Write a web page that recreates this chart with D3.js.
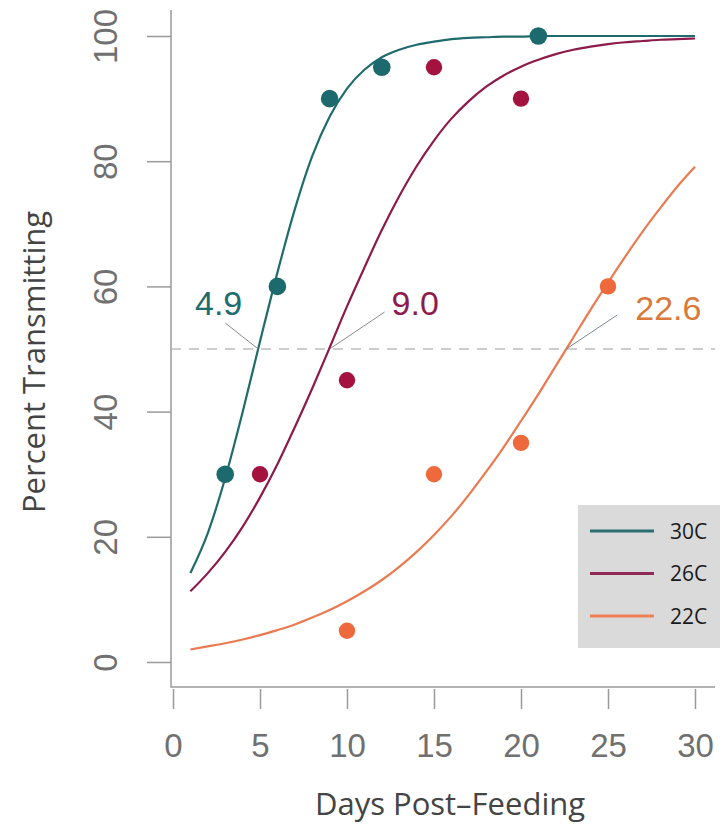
<!DOCTYPE html>
<html>
<head>
<meta charset="utf-8">
<script src="https://cdn.jsdelivr.net/npm/d3@7"></script>
<style>
  html, body { margin: 0; padding: 0; background: #fff; }
  svg { display: block; }
</style>
</head>
<body>
<script>
// ---- data ----
const curveDays = [1,2,3,4,5,6,7,8,9,10,11,12,13,14,15,16,17,18,19,20,21,22,23,24,25,26,27,28,29,30];
const curve30C = [14.2,20.6,29.4,39.9,51.2,62.2,72.3,80.8,87.1,91.6,94.6,96.6,97.8,98.6,99.1,99.5,99.7,99.8,99.9,99.9,100,100,100,100,100,100,100,100,100,100];
const curve26C = [11.3,14.2,17.6,21.6,26.3,31.6,37.5,43.7,50.2,56.8,63,69,74.4,79.2,83.3,86.8,89.6,91.9,93.7,95.1,96.2,97.1,97.8,98.3,98.7,99,99.2,99.4,99.5,99.6];
const curve22C = [2.0,2.5,3.0,3.6,4.3,5.1,6.0,7.1,8.3,9.7,11.3,13.1,15.2,17.6,20.3,23.3,26.7,30.4,34.3,38.5,42.8,47.3,51.8,56.3,60.6,64.8,68.8,72.5,76,79.1];

const obsDays30C = [3,6,9,12,21];
const obsPct30C  = [30,60,90,95,100];
const obsDays26C = [5,10,15,20];
const obsPct26C  = [30,45,95,90];
const obsDays22C = [10,15,20,25];
const obsPct22C  = [5,30,35,60];

const seriesNames = ["30C","26C","22C"];
const ed50Values = [4.9, 9.0, 22.6];
const ed50Labels = ["4.9","9.0","22.6"];
const xTicks = [0,5,10,15,20,25,30];
const yTicks = [0,20,40,60,80,100];
const refLevel = 50;

// ---- styles ----
const lineColors  = ["#1f6b6e","#8c1a4b","#ea7a52"];
const pointColors = ["#1c6a6d","#a4133f","#ee6a3d"];
const labelColors = ["#1f6b6e","#8e1b4b","#d97a3c"];
const legendColors = ["#2b6e72","#8d2a55","#ef8054"];

const W = 725, H = 826;
const svg = d3.select("body").append("svg").attr("width", W).attr("height", H);

const x = d3.scaleLinear().domain([0,30]).range([173,695]);
const y = d3.scaleLinear().domain([0,100]).range([662,36]);

const frameLeft = 171, frameBottom = 687, frameTop = 10, frameRight = 715;
const axisColor = "#9a9a9a";

// frame (L shaped)
svg.append("path")
  .attr("d", `M${frameLeft},${frameTop}V${frameBottom}H${frameRight}`)
  .attr("fill","none").attr("stroke",axisColor).attr("stroke-width",1.5);

// y axis ticks
const yAxis = svg.append("g")
  .attr("transform", `translate(${frameLeft},0)`)
  .call(d3.axisLeft(y).tickValues(yTicks).tickSize(24).tickFormat(d3.format("d")));
yAxis.select(".domain").remove();
yAxis.selectAll(".tick line").attr("stroke",axisColor).attr("stroke-width",1.5);
yAxis.selectAll(".tick text")
  .attr("x", null).attr("dy", null)
  .attr("transform", "translate(-54,0) rotate(-90)")
  .attr("text-anchor","middle")
  .attr("font-family","Liberation Sans, Arial, sans-serif")
  .attr("font-size",33)
  .attr("fill","#707070");

// x axis ticks
const xAxis = svg.append("g")
  .attr("transform", `translate(0,${frameBottom+2})`)
  .call(d3.axisBottom(x).tickValues(xTicks).tickSize(20).tickFormat(d3.format("d")));
xAxis.select(".domain").remove();
xAxis.selectAll(".tick line").attr("stroke",axisColor).attr("stroke-width",1.5);
xAxis.selectAll(".tick text")
  .attr("y", 68).attr("dy", null)
  .attr("font-family","Liberation Sans, Arial, sans-serif")
  .attr("font-size",33)
  .attr("fill","#707070");

// axis titles
svg.append("text")
  .attr("transform", `translate(45,362) rotate(-90)`)
  .attr("text-anchor","middle")
  .attr("font-family","Open Sans, sans-serif")
  .attr("font-size",31)
  .attr("fill","#444")
  .text("Percent Transmitting");
svg.append("text")
  .attr("x", 450).attr("y", 815)
  .attr("text-anchor","middle")
  .attr("font-family","Open Sans, sans-serif")
  .attr("font-size",31)
  .attr("fill","#444")
  .text("Days Post\u2013Feeding");

// dashed 50% reference line
svg.append("line")
  .attr("x1", frameLeft).attr("x2", frameRight)
  .attr("y1", y(refLevel)).attr("y2", y(refLevel))
  .attr("stroke","#bdbdbd").attr("stroke-width",1.5)
  .attr("stroke-dasharray","10,8");

// fitted curves
const curves = [curve30C, curve26C, curve22C];
const line = d3.line().x(d => x(d[0])).y(d => y(d[1])).curve(d3.curveMonotoneX);
curves.forEach((c, i) => {
  svg.append("path")
    .datum(curveDays.map((d, j) => [d, c[j]]))
    .attr("d", line)
    .attr("fill","none")
    .attr("stroke", lineColors[i])
    .attr("stroke-width", 2.2);
});

// observed points
const obs = [[obsDays30C, obsPct30C],[obsDays26C, obsPct26C],[obsDays22C, obsPct22C]];
obs.forEach((o, i) => {
  svg.append("g").selectAll("circle")
    .data(o[0].map((d, j) => [d, o[1][j]]))
    .join("circle")
    .attr("cx", d => x(d[0]))
    .attr("cy", d => y(d[1]))
    .attr("r", i === 0 ? 8.8 : 8.2)
    .attr("fill", pointColors[i]);
});

// ED50 annotations
const leaderOffsets = [[-33,-26],[55,-37],[51,-34]];
const labelOffsets  = [[-16,-34,"end"],[62,-34,"start"],[69,-29,"start"]];
ed50Values.forEach((v, i) => {
  const cx = x(v), cy = y(refLevel);
  svg.append("line")
    .attr("x1", cx).attr("y1", cy)
    .attr("x2", cx + leaderOffsets[i][0]).attr("y2", cy + leaderOffsets[i][1])
    .attr("stroke", i === 2 ? "#7d8c98" : "#8a8a8a").attr("stroke-width",1);
  svg.append("text")
    .attr("x", cx + labelOffsets[i][0]).attr("y", cy + labelOffsets[i][1])
    .attr("text-anchor", labelOffsets[i][2])
    .attr("font-family","Liberation Sans, Arial, sans-serif")
    .attr("font-size",34)
    .attr("fill", labelColors[i])
    .text(ed50Labels[i]);
});

// legend
const lg = svg.append("g");
lg.append("rect")
  .attr("x", 578).attr("y", 505).attr("width", 142).attr("height", 143)
  .attr("fill","#dadada");
seriesNames.forEach((s, i) => {
  const ly = 531 + i * 42.5;
  lg.append("line")
    .attr("x1", 590).attr("x2", 654).attr("y1", ly).attr("y2", ly)
    .attr("stroke", legendColors[i]).attr("stroke-width", 3);
  lg.append("text")
    .attr("x", 670).attr("y", ly + 7.5)
    .attr("font-family","Open Sans, sans-serif")
    .attr("font-size",21)
    .attr("fill","#1a1a1a")
    .text(s);
});
</script>
</body>
</html>
